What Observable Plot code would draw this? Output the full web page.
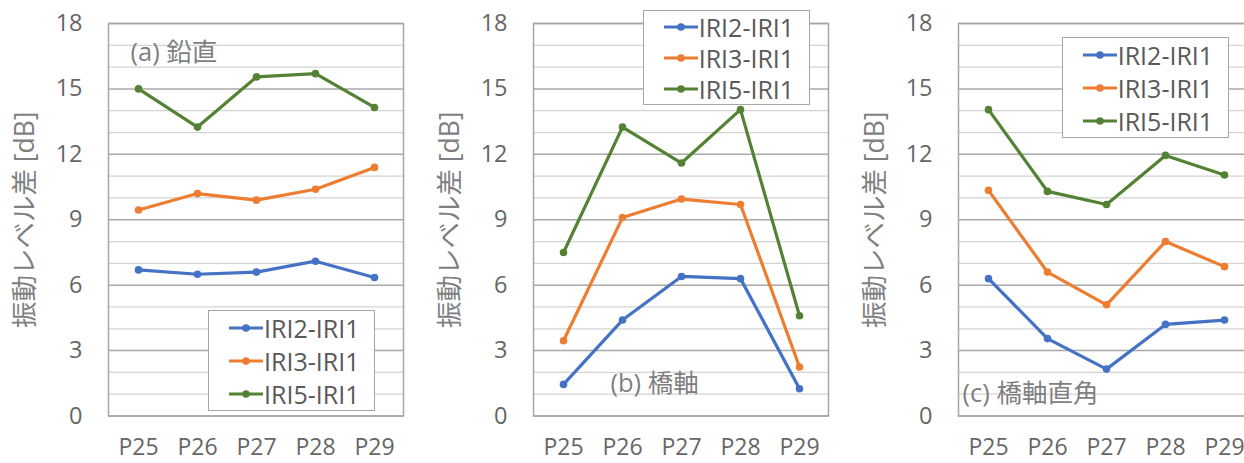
<!DOCTYPE html>
<html><head><meta charset="utf-8">
<script src="https://cdn.jsdelivr.net/npm/d3@7"></script>
<script src="https://cdn.jsdelivr.net/npm/@observablehq/plot@0.6"></script>
<style>
body{margin:0;background:#fff;}
#wrap{position:relative;width:1244px;height:463px;overflow:hidden;font-family:"Open Sans","Noto Sans CJK JP",sans-serif;}
.panel{position:absolute;top:0;width:425px;height:463px;}
.legend{position:absolute;background:#fff;border:1.5px solid #a6a6a6;box-sizing:border-box;width:167px;}
.row{display:flex;align-items:center;padding-left:20px;font-size:25px;color:#595959;white-space:nowrap;}
.row svg{margin-right:1px;}
</style></head>
<body><div id="wrap"></div>
<script>
const categories = ["P25","P26","P27","P28","P29"];
const seriesNames = ["IRI2-IRI1","IRI3-IRI1","IRI5-IRI1"];
const seriesColors = ["#4472C4","#ED7D31","#548235"];
const yTicks = [0,3,6,9,12,15,18];
const yMinor = [1,2,4,5,7,8,10,11,13,14,16,17];
const yTitle = "振動レベル差 [dB]";

// (a) 鉛直
const a_iri2 = [6.7, 6.5, 6.6, 7.1, 6.35];
const a_iri3 = [9.45, 10.2, 9.9, 10.4, 11.4];
const a_iri5 = [15.0, 13.25, 15.55, 15.7, 14.15];
// (b) 橋軸
const b_iri2 = [1.45, 4.4, 6.4, 6.3, 1.25];
const b_iri3 = [3.45, 9.1, 9.95, 9.7, 2.25];
const b_iri5 = [7.5, 13.25, 11.6, 14.05, 4.6];
// (c) 橋軸直角
const c_iri2 = [6.3, 3.55, 2.15, 4.2, 4.4];
const c_iri3 = [10.35, 6.6, 5.1, 8.0, 6.85];
const c_iri5 = [14.05, 10.3, 9.7, 11.95, 11.05];

const panels = [
  {label:"(a) 鉛直", series:[a_iri2,a_iri3,a_iri5], left:0,
   lab:{frameAnchor:"top-left", dx:22, dy:29},
   legend:{left:208, top:310, rowH:33}},
  {label:"(b) 橋軸", series:[b_iri2,b_iri3,b_iri5], left:424.7,
   lab:{frameAnchor:"bottom-left", dx:77, dy:-32},
   legend:{left:218, top:10, rowH:31}},
  {label:"(c) 橋軸直角", series:[c_iri2,c_iri3,c_iri5], left:849.7,
   lab:{frameAnchor:"bottom-left", dx:4, dy:-22},
   legend:{left:212, top:37, rowH:33}}
];

const wrap = document.getElementById("wrap");
const font = "'Open Sans','Noto Sans CJK JP',sans-serif";

panels.forEach(p => {
  const data = [];
  seriesNames.forEach((name, i) => p.series[i].forEach((v, j) => data.push({series:name, cat:categories[j], value:v})));
  const fig = Plot.plot({
    width: 425, height: 463,
    marginLeft: 108, marginRight: 22, marginTop: 23, marginBottom: 47.5,
    style: {fontFamily: font, fontSize: "23px", color: "#666", background: "transparent", overflow: "visible"},
    x: {type: "point", domain: categories, padding: 0.5, label: null},
    y: {domain: [0, 18], label: null},
    color: {domain: seriesNames, range: seriesColors},
    marks: [
      Plot.ruleY(yMinor, {stroke: "#d4d4d4", strokeWidth: 1.3}),
      Plot.ruleY(yTicks, {stroke: "#a8a8a8", strokeWidth: 1.5}),
      Plot.frame({stroke: "#a6a6a6", strokeWidth: 1.5}),
      Plot.axisY({ticks: yTicks, tickSize: 0, tickPadding: 26, fontSize: 23.5, fill: "#666", label: null}),
      Plot.axisX({tickSize: 0, tickPadding: 23, fontSize: 23, fill: "#666", label: null}),
      Plot.text([yTitle], {frameAnchor: "left", dx: -83, rotate: -90, text: d => d, fill: "#7f7f7f", fontSize: 26.5, textAnchor: "middle", lineAnchor: "middle"}),
      Plot.text([p.label], {frameAnchor: p.lab.frameAnchor, dx: p.lab.dx, dy: p.lab.dy, text: d => d, fill: "#7f7f7f", fontSize: 25.5, textAnchor: "start", lineAnchor: "middle"}),
      Plot.line(data, {x: "cat", y: "value", z: "series", stroke: "series", strokeWidth: 3.2}),
      Plot.dot(data, {x: "cat", y: "value", fill: "series", r: 3.8})
    ]
  });
  const div = document.createElement("div");
  div.className = "panel";
  div.style.left = p.left + "px";
  div.appendChild(fig);
  const lg = document.createElement("div");
  lg.className = "legend";
  lg.style.left = p.legend.left + "px";
  lg.style.top = p.legend.top + "px";
  seriesNames.forEach((name, i) => {
    const row = document.createElement("div");
    row.className = "row";
    row.style.height = p.legend.rowH + "px";
    const c = seriesColors[i];
    row.innerHTML = `<svg width="34" height="12"><line x1="0" y1="6" x2="34" y2="6" stroke="${c}" stroke-width="3"/><circle cx="17" cy="6" r="3.8" fill="${c}"/></svg><span>${name}</span>`;
    lg.appendChild(row);
  });
  div.appendChild(lg);
  wrap.appendChild(div);
});
</script>
</body></html>
